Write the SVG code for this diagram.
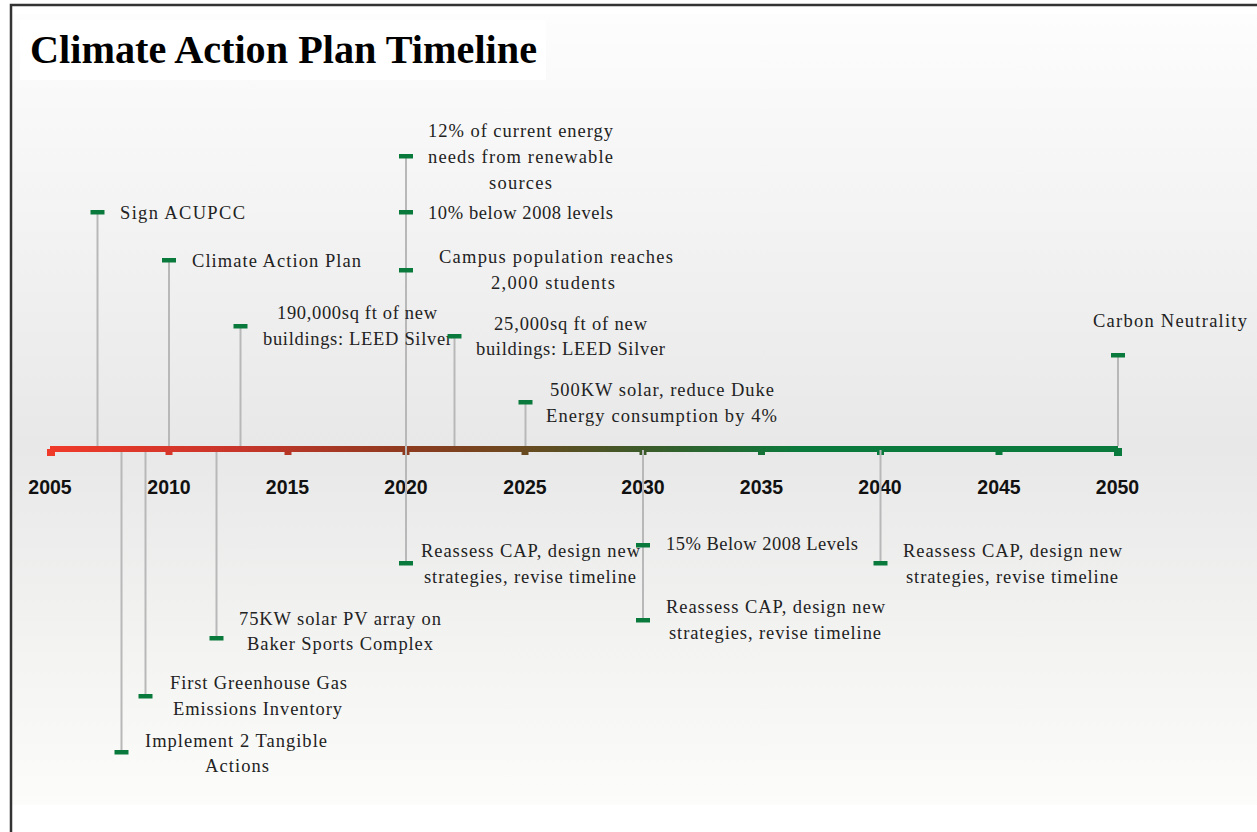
<svg xmlns="http://www.w3.org/2000/svg" width="1257" height="832" viewBox="0 0 1257 832">
  <defs>
    <linearGradient id="panelFill" x1="0" y1="14" x2="0" y2="805" gradientUnits="userSpaceOnUse">
      <stop offset="0" stop-color="#fdfdfd"/>
      <stop offset="0.55" stop-color="#e8e8e8"/>
      <stop offset="1" stop-color="#fcfcfa"/>
    </linearGradient>
    <linearGradient id="axisFill" x1="50" y1="0" x2="800" y2="0" gradientUnits="userSpaceOnUse">
      <stop offset="0" stop-color="#f03a2a"/>
      <stop offset="0.25" stop-color="#c8352a"/>
      <stop offset="0.47" stop-color="#8f3a1f"/>
      <stop offset="0.63" stop-color="#6a4a20"/>
      <stop offset="0.79" stop-color="#3c5a29"/>
      <stop offset="1" stop-color="#0a7a3c"/>
    </linearGradient>
    <style>
      .stem { stroke: #b8b8b8; stroke-width: 2; fill: none; }
      .cap { fill: #0a7a3c; }
      .lbl { font-family: "Liberation Serif", "Times New Roman", serif; font-size: 18.5px; fill: #222; text-anchor: middle; }
      .year { font-family: "Liberation Sans", Arial, sans-serif; font-size: 19.5px; font-weight: bold; fill: #111; text-anchor: middle; }
      .title { font-family: "Liberation Serif", "Times New Roman", serif; font-size: 39px; font-weight: bold; fill: #000; }
    </style>
  </defs>

  <!-- page background and frame -->
  <rect x="0" y="0" width="1257" height="832" fill="#ffffff"/>
  <rect x="12" y="14" width="1245" height="791" fill="url(#panelFill)"/>
  <path d="M11 832 V5 H1257" fill="none" stroke="#333" stroke-width="2.5"/>

  <!-- title -->
  <g id="title">
    <rect x="20" y="20" width="526" height="60" fill="#ffffff"/>
    <text class="title" x="30" y="63" textLength="507" lengthAdjust="spacingAndGlyphs">Climate Action Plan Timeline</text>
  </g>

  <!-- time axis -->
  <g id="axis">
    <rect x="50" y="446" width="1068" height="6" fill="url(#axisFill)"/>
    <g fill="url(#axisFill)">
      <rect x="47" y="449" width="8" height="7"/>
      <rect x="165.5" y="451" width="7" height="4"/>
      <rect x="284.5" y="451" width="7" height="4"/>
      <rect x="402.5" y="451" width="7" height="4"/>
      <rect x="521.5" y="451" width="7" height="4"/>
      <rect x="639.5" y="451" width="7" height="4"/>
      <rect x="758" y="451" width="7" height="4"/>
    </g>
    <g fill="#0a7a3c">
      <rect x="877" y="451" width="7" height="4"/>
      <rect x="995.5" y="451" width="7" height="4"/>
      <rect x="1114" y="448" width="8" height="8"/>
    </g>
    <text class="year" x="50" y="494">2005</text>
    <text class="year" x="169" y="494">2010</text>
    <text class="year" x="287.5" y="494">2015</text>
    <text class="year" x="406" y="494">2020</text>
    <text class="year" x="525" y="494">2025</text>
    <text class="year" x="643" y="494">2030</text>
    <text class="year" x="761.5" y="494">2035</text>
    <text class="year" x="880" y="494">2040</text>
    <text class="year" x="999" y="494">2045</text>
    <text class="year" x="1117.5" y="494">2050</text>
  </g>

  <!-- stems joining each event to the axis -->
  <g id="connectors">
    <line class="stem" x1="97.5" y1="212" x2="97.5" y2="446"/>
    <line class="stem" x1="169" y1="260" x2="169" y2="446"/>
    <line class="stem" x1="240.5" y1="326" x2="240.5" y2="446"/>
    <line class="stem" x1="406" y1="156" x2="406" y2="563"/>
    <line class="stem" x1="454.5" y1="336" x2="454.5" y2="446"/>
    <line class="stem" x1="525.5" y1="402" x2="525.5" y2="446"/>
    <line class="stem" x1="1118" y1="355" x2="1118" y2="446"/>
    <line class="stem" x1="121.5" y1="452" x2="121.5" y2="752"/>
    <line class="stem" x1="145.5" y1="452" x2="145.5" y2="696"/>
    <line class="stem" x1="216.5" y1="452" x2="216.5" y2="638"/>
    <line class="stem" x1="643" y1="450" x2="643" y2="620"/>
    <line class="stem" x1="880.5" y1="450" x2="880.5" y2="563"/>
  </g>

  <!-- events above the axis -->
  <g id="sign-acupcc">
    <rect class="cap" x="90.5" y="210" width="14" height="4.5"/>
    <text class="lbl" x="182.5" y="219" textLength="125" lengthAdjust="spacing">Sign ACUPCC</text>
  </g>
  <g id="climate-action-plan">
    <rect class="cap" x="162" y="258" width="14" height="4.5"/>
    <text class="lbl" x="276.5" y="267" textLength="169" lengthAdjust="spacing">Climate Action Plan</text>
  </g>
  <g id="leed-190000">
    <rect class="cap" x="233.5" y="324" width="14" height="4.5"/>
    <text class="lbl" x="357" y="319" textLength="160" lengthAdjust="spacing">190,000sq ft of new</text>
    <text class="lbl" x="357.5" y="345" textLength="189" lengthAdjust="spacing">buildings: LEED Silver</text>
  </g>
  <g id="renewable-12">
    <rect class="cap" x="399" y="154" width="14" height="4.5"/>
    <text class="lbl" x="520.5" y="137" textLength="185" lengthAdjust="spacing">12% of current energy</text>
    <text class="lbl" x="520.5" y="163" textLength="185" lengthAdjust="spacing">needs from renewable</text>
    <text class="lbl" x="520.5" y="189" textLength="63" lengthAdjust="spacing">sources</text>
  </g>
  <g id="below-10">
    <rect class="cap" x="399" y="210" width="14" height="4.5"/>
    <text class="lbl" x="520.5" y="219" textLength="185" lengthAdjust="spacing">10% below 2008 levels</text>
  </g>
  <g id="campus-population">
    <rect class="cap" x="399" y="268" width="14" height="4.5"/>
    <text class="lbl" x="556" y="263" textLength="234" lengthAdjust="spacing">Campus population reaches</text>
    <text class="lbl" x="553" y="289" textLength="124" lengthAdjust="spacing">2,000 students</text>
  </g>
  <g id="leed-25000">
    <rect class="cap" x="447.5" y="334" width="14" height="4.5"/>
    <text class="lbl" x="570.5" y="330" textLength="153" lengthAdjust="spacing">25,000sq ft of new</text>
    <text class="lbl" x="570.5" y="355" textLength="189" lengthAdjust="spacing">buildings: LEED Silver</text>
  </g>
  <g id="solar-500kw">
    <rect class="cap" x="518.5" y="400" width="14" height="4.5"/>
    <text class="lbl" x="662" y="396" textLength="224" lengthAdjust="spacing">500KW solar, reduce Duke</text>
    <text class="lbl" x="661.5" y="422" textLength="231" lengthAdjust="spacing">Energy consumption by 4%</text>
  </g>
  <g id="carbon-neutrality">
    <rect class="cap" x="1111" y="353" width="14" height="4.5"/>
    <text class="lbl" x="1170" y="327" textLength="154" lengthAdjust="spacing">Carbon Neutrality</text>
  </g>

  <!-- events below the axis -->
  <g id="tangible-actions">
    <rect class="cap" x="114.5" y="750" width="14" height="4.5"/>
    <text class="lbl" x="236" y="747" textLength="182" lengthAdjust="spacing">Implement 2 Tangible</text>
    <text class="lbl" x="237" y="772" textLength="64" lengthAdjust="spacing">Actions</text>
  </g>
  <g id="ghg-inventory">
    <rect class="cap" x="138.5" y="694" width="14" height="4.5"/>
    <text class="lbl" x="258.5" y="689" textLength="177" lengthAdjust="spacing">First Greenhouse Gas</text>
    <text class="lbl" x="257.5" y="715" textLength="169" lengthAdjust="spacing">Emissions Inventory</text>
  </g>
  <g id="solar-75kw">
    <rect class="cap" x="209.5" y="636" width="14" height="4.5"/>
    <text class="lbl" x="340" y="625" textLength="202" lengthAdjust="spacing">75KW solar PV array on</text>
    <text class="lbl" x="340" y="650" textLength="186" lengthAdjust="spacing">Baker Sports Complex</text>
  </g>
  <g id="reassess-2020">
    <rect class="cap" x="399" y="561" width="14" height="4.5"/>
    <text class="lbl" x="530.5" y="557" textLength="219" lengthAdjust="spacing">Reassess CAP, design new</text>
    <text class="lbl" x="530" y="583" textLength="212" lengthAdjust="spacing">strategies, revise timeline</text>
  </g>
  <g id="below-15">
    <rect class="cap" x="636" y="543" width="14" height="4.5"/>
    <text class="lbl" x="762" y="550" textLength="192" lengthAdjust="spacing">15% Below 2008 Levels</text>
  </g>
  <g id="reassess-2030">
    <rect class="cap" x="636" y="618" width="14" height="4.5"/>
    <text class="lbl" x="775.5" y="613" textLength="219" lengthAdjust="spacing">Reassess CAP, design new</text>
    <text class="lbl" x="775" y="639" textLength="212" lengthAdjust="spacing">strategies, revise timeline</text>
  </g>
  <g id="reassess-2040">
    <rect class="cap" x="873.5" y="561" width="14" height="4.5"/>
    <text class="lbl" x="1012.5" y="557" textLength="219" lengthAdjust="spacing">Reassess CAP, design new</text>
    <text class="lbl" x="1012" y="583" textLength="212" lengthAdjust="spacing">strategies, revise timeline</text>
  </g>
</svg>
